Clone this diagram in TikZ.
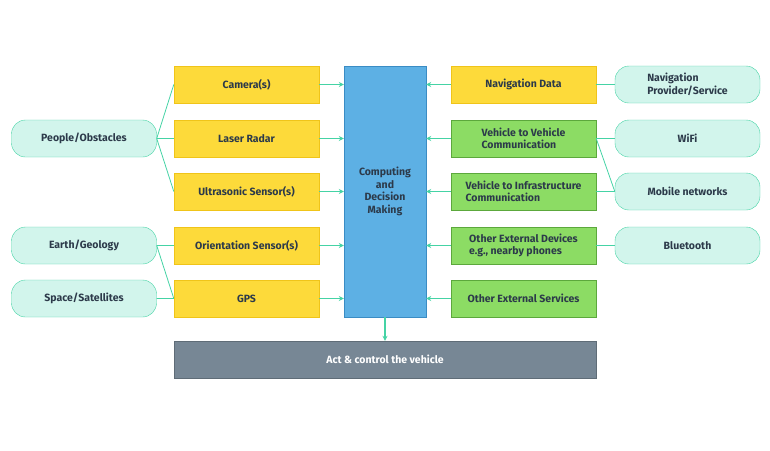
\documentclass[tikz,border=0pt]{standalone}
\usepackage{fontspec}
\setmainfont{Fira Sans}
\usetikzlibrary{arrows.meta}
\definecolor{yel}{HTML}{FDDA3A}
\definecolor{yelb}{HTML}{F0C419}
\definecolor{grn}{HTML}{8CDC64}
\definecolor{grnb}{HTML}{5CA83C}
\definecolor{blu}{HTML}{5DB0E4}
\definecolor{blub}{HTML}{3A8CC4}
\definecolor{mint}{HTML}{D2F5EC}
\definecolor{mintb}{HTML}{45D3A5}
\definecolor{gry}{HTML}{778795}
\definecolor{txt}{HTML}{2C3A4A}
\begin{document}
\begin{tikzpicture}[x=1pt,y=-1pt,
 fnt/.style={font=\fontsize{10.5}{12.5}\selectfont\bfseries},
 box/.style={draw=#1b,fill=#1,minimum width=145pt,minimum height=37pt,inner sep=2pt,fnt,text=txt,align=left},
 pill/.style={draw=mintb,fill=mint,rounded corners=14pt,minimum width=145pt,minimum height=37pt,fnt,text=txt,align=left},
 ln/.style={draw=mintb,line width=0.8pt},
 ar/.style={draw=mintb,line width=1.5pt,-{Stealth[length=5pt,width=5pt]}}]
\useasboundingbox (0,0) rectangle (770,450);
\node[box=yel] (cam) at (246.5,84.5) {Camera(s)};
\node[box=yel] (las) at (246.5,138.5) {Laser Radar};
\node[box=yel] (ult) at (246.5,191.5) {Ultrasonic Sensor(s)};
\node[box=yel] (ori) at (246.5,245.5) {Orientation Sensor(s)};
\node[box=yel] (gps) at (246.5,298.5) {GPS};
\node[draw=blub,fill=blu,minimum width=82pt,minimum height=251pt,fnt,text=txt,align=center] (cpu) at (385,191.5) {Computing\\and\\Decision\\Making};
\node[box=yel] (nav) at (523.5,84.5) {Navigation Data};
\node[box=grn] (v2v) at (523.5,138.5) {Vehicle to Vehicle\\Communication};
\node[box=grn] (v2i) at (523.5,191.5) {Vehicle to Infrastructure\\Communication};
\node[box=grn] (oed) at (523.5,245.5) {Other External Devices\\e.g., nearby phones};
\node[box=grn] (oes) at (523.5,298.5) {Other External Services};
\node[pill] (np) at (687.5,84.5) {Navigation\\Provider/Service};
\node[pill] (wifi) at (687.5,138.5) {WiFi};
\node[pill] (mob) at (687.5,191.5) {Mobile networks};
\node[pill] (bt) at (687.5,245.5) {Bluetooth};
\node[pill] (peo) at (84,138.5) {People/Obstacles};
\node[pill] (ear) at (84,245.5) {Earth/Geology};
\node[pill] (spa) at (84,298.5) {Space/Satellites};
\node[draw=gry!80!black,fill=gry,minimum width=422pt,minimum height=37pt,fnt,text=white] (act) at (385,359.5) {Act \& control the vehicle};
\foreach \n in {cam,las,ult,ori,gps} \draw[ar] (\n.east) -- (\n.east -| cpu.west);
\foreach \n in {nav,v2v,v2i,oed,oes} \draw[ar] (\n.west) -- (\n.west -| cpu.east);
\draw[ar] (cpu.south) -- (act.north);
\draw[ln] (peo.east) -- (cam.west) (peo.east) -- (las.west) (peo.east) -- (ult.west);
\draw[ln] (ear.east) -- (ori.west) (ear.east) -- (gps.west) (spa.east) -- (gps.west);
\draw[ln] (np.west) -- (nav.east) (wifi.west) -- (v2v.east) (mob.west) -- (v2v.east) (mob.west) -- (v2i.east) (bt.west) -- (oed.east);
\end{tikzpicture}
\end{document}
